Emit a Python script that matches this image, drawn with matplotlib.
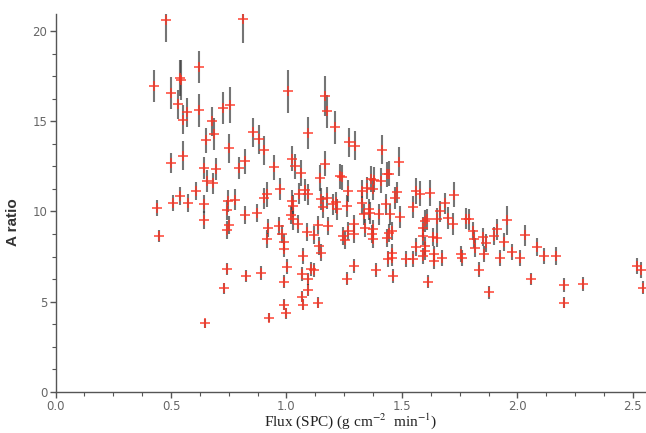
import matplotlib
matplotlib.use("Agg")
import matplotlib.pyplot as plt
from matplotlib.ticker import MultipleLocator

# Flux (SPC) en g cm-2 min-1, rapport A et incertitude
flux = [
    0.425, 0.44, 0.45, 0.48, 0.50, 0.50, 0.51, 0.53, 0.54, 0.545,
    0.55, 0.55, 0.54, 0.57, 0.575, 0.61, 0.62, 0.62, 0.643, 0.643,
    0.643, 0.65, 0.649, 0.655, 0.676, 0.68, 0.686, 0.695, 0.724, 0.73,
    0.744, 0.744, 0.744, 0.748, 0.753, 0.756, 0.75, 0.777, 0.795, 0.81,
    0.822, 0.82, 0.825, 0.854, 0.874, 0.88, 0.889, 0.904, 0.904, 0.917,
    0.919, 0.917, 0.925, 0.948, 0.968, 0.972, 0.98, 0.99, 0.99, 0.99,
    0.99, 0.996, 1.003, 1.005, 1.018, 1.023, 1.023, 1.03, 1.03, 1.037,
    1.052, 1.055, 1.063, 1.066, 1.066, 1.073, 1.073, 1.08, 1.09, 1.092,
    1.095, 1.095, 1.095, 1.106, 1.12, 1.12, 1.136, 1.138, 1.14, 1.145,
    1.15, 1.15, 1.16, 1.167, 1.167, 1.176, 1.175, 1.18, 1.203, 1.21,
    1.213, 1.218, 1.232, 1.24, 1.246, 1.254, 1.26, 1.264, 1.268, 1.268,
    1.27, 1.294, 1.294, 1.294, 1.297, 1.326, 1.329, 1.337, 1.338, 1.348,
    1.358, 1.362, 1.366, 1.37, 1.376, 1.376, 1.376, 1.38, 1.387, 1.40,
    1.41, 1.415, 1.43, 1.434, 1.434, 1.44, 1.443, 1.444, 1.45, 1.456,
    1.456, 1.456, 1.463, 1.47, 1.478, 1.486, 1.49, 1.518, 1.547, 1.55,
    1.561, 1.56, 1.58, 1.59, 1.593, 1.593, 1.60, 1.60, 1.60, 1.61,
    1.615, 1.62, 1.636, 1.64, 1.64, 1.65, 1.65, 1.665, 1.673, 1.687,
    1.70, 1.723, 1.726, 1.755, 1.76, 1.778, 1.79, 1.807, 1.81, 1.816,
    1.835, 1.85, 1.864, 1.857, 1.879, 1.90, 1.913, 1.925, 1.94, 1.954,
    1.976, 2.01, 2.033, 2.06, 2.084, 2.116, 2.168, 2.204, 2.204, 2.286,
    2.52, 2.535, 2.543,
]
ratio_a = [
    16.95, 10.2, 8.64, 20.6, 16.55, 12.7, 10.48, 15.95, 17.4, 17.3,
    15.08, 13.08, 10.85, 15.5, 10.48, 11.12, 18.0, 15.6, 12.41, 10.42,
    9.54, 13.94, 3.8, 11.67, 15.0, 11.55, 14.3, 12.36, 15.73, 5.75,
    10.06, 8.95, 6.8, 10.57, 9.24, 15.9, 13.5, 10.66, 12.41, 20.66,
    12.78, 9.78, 6.43, 14.38, 9.89, 14.0, 6.6, 13.4, 10.72, 10.94,
    9.1, 8.45, 4.1, 12.45, 9.2, 11.25, 8.75, 8.28, 7.9, 6.1,
    4.84, 4.36, 6.94, 16.65, 9.78, 12.93, 10.57, 10.3, 9.58, 12.5,
    9.3, 10.99, 12.13, 6.52, 5.27, 7.55, 4.82, 11.2, 8.86, 14.35,
    10.94, 6.26, 5.65, 6.8, 6.76, 8.67, 4.95, 9.24, 8.08, 11.86,
    7.72, 10.7, 10.26, 16.4, 12.65, 15.54, 10.75, 9.2, 10.39, 14.66,
    10.5, 10.11, 11.95, 11.9, 8.64, 8.4, 10.3, 6.28, 11.12, 8.9,
    13.83, 9.28, 8.73, 6.98, 13.65, 10.45, 11.12, 9.83, 9.1, 11.3,
    10.11, 9.93, 11.8, 8.73, 11.25, 9.0, 8.45, 11.75, 6.74, 9.83,
    11.7, 13.43, 10.39, 12.05, 8.55, 7.35, 12.1, 8.82, 9.83, 8.9,
    7.72, 7.44, 6.43, 10.75, 11.05, 12.75, 9.68, 7.37, 10.25, 7.37,
    8.05, 11.13, 10.99, 7.53, 9.1, 8.64, 9.46, 8.08, 7.8, 9.56,
    6.1, 11.02, 8.6, 7.62, 7.25, 9.6, 8.55, 10.0, 7.44, 10.44,
    9.65, 9.3, 10.92, 7.62, 7.44, 9.6, 9.56, 8.9, 8.45, 8.0,
    6.78, 8.6, 8.23, 7.62, 5.52, 8.64, 9.0, 7.4, 8.33, 9.52,
    7.75, 7.44, 8.67, 6.26, 8.05, 7.53, 7.55, 5.93, 4.95, 5.98,
    6.99, 6.75, 5.78,
]
erreur = [
    0.9, 0.45, 0.35, 1.2, 0.9, 0.55, 0.45, 0.8, 1.0, 1.1,
    0.8, 0.8, 0.5, 0.8, 0.5, 0.5, 0.9, 0.9, 0.6, 0.5,
    0.5, 0.7, 0.25, 0.6, 0.8, 0.6, 0.9, 0.6, 0.9, 0.3,
    0.55, 0.5, 0.35, 0.6, 0.5, 1.0, 0.8, 0.6, 0.6, 1.3,
    0.7, 0.5, 0.35, 0.8, 0.5, 0.8, 0.4, 0.8, 0.6, 0.7,
    0.5, 0.5, 0.25, 0.7, 0.5, 0.6, 0.5, 0.45, 0.45, 0.35,
    0.3, 0.3, 0.4, 1.2, 0.5, 0.7, 0.6, 0.6, 0.6, 0.7,
    0.5, 0.6, 0.7, 0.4, 0.3, 0.45, 0.3, 0.6, 0.5, 0.9,
    0.6, 0.35, 0.35, 0.4, 0.4, 0.5, 0.3, 0.5, 0.5, 0.7,
    0.45, 0.6, 0.6, 1.1, 0.7, 0.9, 0.6, 0.5, 0.6, 0.9,
    0.6, 0.6, 0.7, 0.7, 0.5, 0.5, 0.6, 0.35, 0.6, 0.5,
    0.8, 0.5, 0.5, 0.4, 0.8, 0.6, 0.6, 0.6, 0.5, 0.6,
    0.6, 0.6, 0.7, 0.5, 0.6, 0.5, 0.5, 0.7, 0.4, 0.6,
    0.7, 0.8, 0.6, 0.7, 0.5, 0.45, 0.7, 0.5, 0.6, 0.5,
    0.45, 0.45, 0.4, 0.6, 0.6, 0.8, 0.6, 0.45, 0.6, 0.45,
    0.5, 0.7, 0.7, 0.45, 0.6, 0.5, 0.6, 0.5, 0.5, 0.6,
    0.35, 0.7, 0.5, 0.45, 0.45, 0.6, 0.5, 0.6, 0.45, 0.6,
    0.6, 0.6, 0.7, 0.45, 0.45, 0.6, 0.6, 0.5, 0.5, 0.5,
    0.4, 0.5, 0.5, 0.45, 0.35, 0.5, 0.6, 0.45, 0.5, 0.8,
    0.45, 0.45, 0.6, 0.35, 0.5, 0.45, 0.5, 0.4, 0.3, 0.4,
    0.45, 0.45, 0.35,
]

gris = "#555555"
plt.rcParams["mathtext.fontset"] = "stix"

fig = plt.figure(figsize=(6.46, 4.33), dpi=100)
ax = fig.add_axes([0.086, 0.095, 0.914, 0.873])

# barres d'erreur verticales (gris foncé) puis croix rouges par-dessus
ax.errorbar(flux, ratio_a, yerr=erreur, fmt="none", ecolor="#3a3a3a",
            elinewidth=1.5, alpha=0.7, capsize=0, zorder=2)
ax.plot(flux, ratio_a, linestyle="none", marker="+", markersize=7,
        markeredgewidth=1.2, color="#ff3322", alpha=0.85, zorder=3)

ax.set_xlim(0, 2.557)
ax.set_ylim(0, 20.95)
ax.xaxis.set_major_locator(MultipleLocator(0.5))
ax.xaxis.set_minor_locator(MultipleLocator(0.125))
ax.yaxis.set_major_locator(MultipleLocator(5))
ax.yaxis.set_minor_locator(MultipleLocator(1.25))
ax.xaxis.set_major_formatter(plt.FormatStrFormatter("%.1f"))

for cote in ["top", "right"]:
    ax.spines[cote].set_visible(False)
for cote in ["left", "bottom"]:
    ax.spines[cote].set_color(gris)
    ax.spines[cote].set_linewidth(1.0)

ax.tick_params(which="both", direction="out", colors=gris, labelsize=8.5,
               labelcolor="#666666")
ax.tick_params(which="major", length=4, width=1.0, pad=2)
ax.tick_params(which="minor", length=3, width=0.8)

ax.set_xlabel(r"Flux (SPC) (g cm$^{-2}$  min$^{-1}$)", family="Liberation Serif",
              fontsize=11, color="#222222", labelpad=-1)
ax.set_ylabel("A ratio", family="Liberation Sans", fontsize=11,
              fontweight="bold", color="#333333", labelpad=10)
ax.yaxis.set_label_coords(-0.06, 0.45)

plt.savefig("out.png", dpi=100)
plt.close()
